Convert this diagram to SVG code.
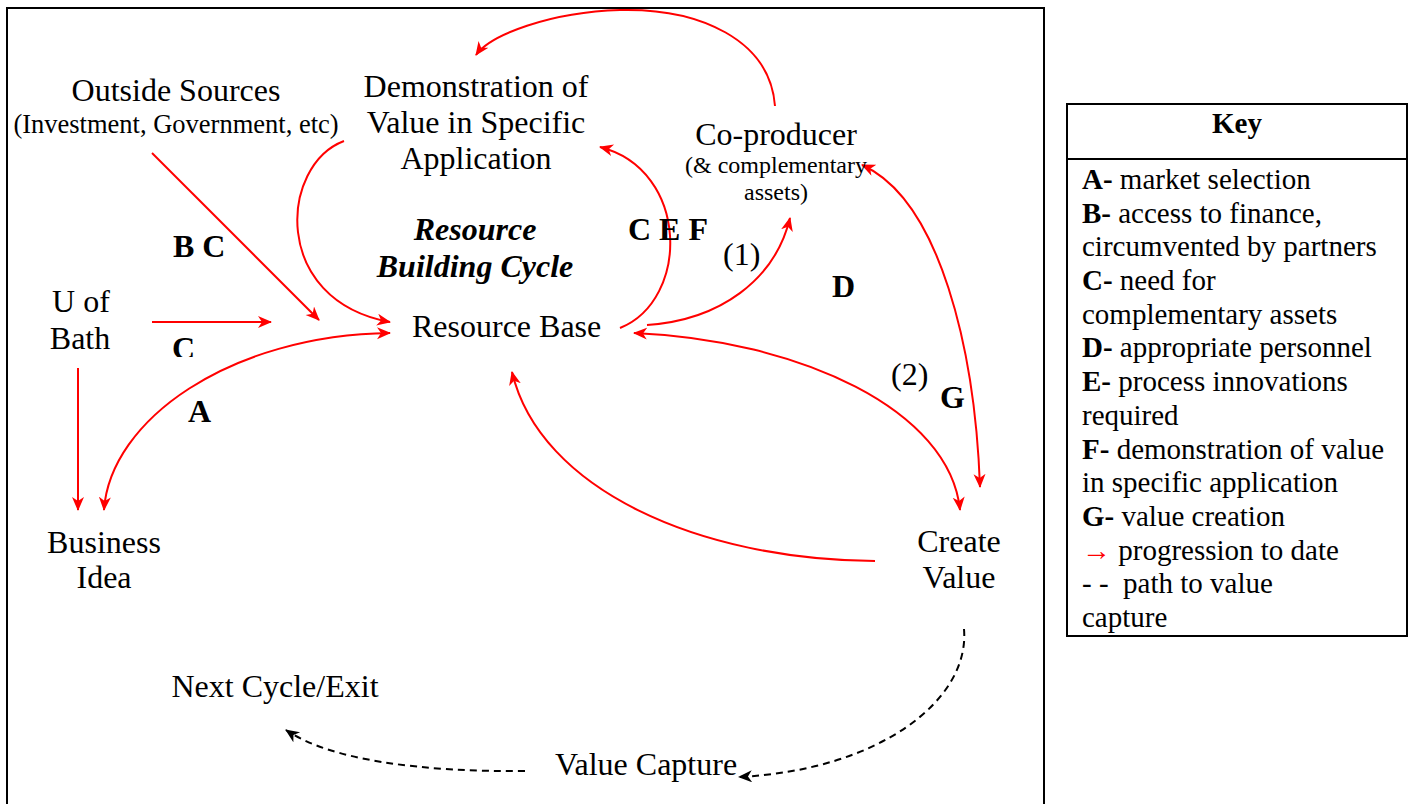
<svg xmlns="http://www.w3.org/2000/svg" width="1414" height="804" viewBox="0 0 1414 804">
<style>
text { font-family: "Liberation Serif", "Times New Roman", serif; fill: #000; }
.n { font-size: 32px; }
.m { text-anchor: middle; }
.s { font-size: 26.5px; }
.xs { font-size: 24px; }
.b { font-size: 32px; font-weight: bold; }
.bi { font-size: 32px; font-weight: bold; font-style: italic; }
.k { font-size: 29px; white-space: pre; }
.kb { font-weight: bold; }
.red { fill: #ff0000; }
.c { fill: none; stroke: #ff0000; stroke-width: 2; }
.d { fill: none; stroke: #000; stroke-width: 2; stroke-dasharray: 7 5; }
.frame { fill: none; stroke: #000; stroke-width: 2; }
</style>
<defs>
<marker id="ar" markerUnits="userSpaceOnUse" markerWidth="16" markerHeight="14" refX="13" refY="6" orient="auto-start-reverse">
<path d="M0,0 L14,6 L0,12 L4,6 z" fill="#ff0000"/>
</marker>
<marker id="ak" markerUnits="userSpaceOnUse" markerWidth="16" markerHeight="14" refX="13" refY="6" orient="auto-start-reverse">
<path d="M0,0 L14,6 L0,12 L4,6 z" fill="#000"/>
</marker>
<clipPath id="clipC"><rect x="150" y="320" width="80" height="37"/></clipPath>
</defs>

<rect class="frame" x="7" y="8" width="1037" height="810"/>

<g id="connectors">
<line class="c" x1="152" y1="153" x2="319" y2="320" marker-end="url(#ar)"/>
<line class="c" x1="152" y1="322" x2="271" y2="322" marker-end="url(#ar)"/>
<path class="c" d="M344,141 C280,165 270,300 390,322" marker-end="url(#ar)"/>
<path class="c" d="M390,333 C230,335 110,420 104,510" marker-start="url(#ar)" marker-end="url(#ar)"/>
<line class="c" x1="78" y1="368" x2="78" y2="510" marker-end="url(#ar)"/>
<path class="c" d="M775,106 C770,40 700,8 620,10 C550,12 490,35 476,55" marker-end="url(#ar)"/>
<path class="c" d="M620,328 C690,300 690,170 600,147" marker-end="url(#ar)"/>
<path class="c" d="M647,325 C720,320 775,280 790,218" marker-end="url(#ar)"/>
<path class="c" d="M862,165 C940,200 975,350 980,487" marker-start="url(#ar)" marker-end="url(#ar)"/>
<path class="c" d="M634,333 C800,340 950,410 960,510" marker-start="url(#ar)" marker-end="url(#ar)"/>
<path class="c" d="M875,561 C700,560 540,490 512,372" marker-end="url(#ar)"/>
<path class="d" d="M964,629 C970,700 880,770 739,777" marker-end="url(#ak)"/>
<path class="d" d="M525,771 C420,772 330,760 286,730" marker-end="url(#ak)"/>
</g>

<g id="outside-sources">
<text class="n m" x="176" y="101">Outside Sources</text>
<text class="s m" x="176" y="133">(Investment, Government, etc)</text>
</g>
<g id="demonstration">
<text class="n m" x="476" y="97">Demonstration of</text>
<text class="n m" x="476" y="133">Value in Specific</text>
<text class="n m" x="476" y="169">Application</text>
</g>
<g id="co-producer">
<text class="n m" x="776" y="145">Co-producer</text>
<text class="xs m" x="776" y="173">(&amp; complementary</text>
<text class="xs m" x="776" y="200">assets)</text>
</g>
<g id="cycle-title">
<text class="bi m" x="475" y="240">Resource</text>
<text class="bi m" x="475" y="277">Building Cycle</text>
</g>
<g id="resource-base">
<text class="n" x="412" y="337">Resource Base</text>
</g>
<g id="u-of-bath">
<text class="n m" x="81" y="312">U of</text>
<text class="n m" x="80" y="349">Bath</text>
</g>
<g id="business-idea">
<text class="n m" x="104" y="553">Business</text>
<text class="n m" x="104" y="588">Idea</text>
</g>
<g id="create-value">
<text class="n m" x="959" y="552">Create</text>
<text class="n m" x="959" y="588">Value</text>
</g>
<g id="next-cycle">
<text class="n m" x="275" y="697">Next Cycle/Exit</text>
</g>
<g id="value-capture">
<text class="n m" x="646" y="775">Value Capture</text>
</g>

<g id="labels">
<text class="b" x="173" y="257">B C</text>
<text class="b" x="172" y="359" clip-path="url(#clipC)">C</text>
<text class="b" x="188" y="422">A</text>
<text class="b" x="628" y="240">C E F</text>
<text class="n" x="723" y="265">(1)</text>
<text class="b" x="832" y="297">D</text>
<text class="n" x="891" y="385">(2)</text>
<text class="b" x="940" y="408">G</text>
</g>

<g id="key">
<rect x="1067" y="104" width="340" height="532" fill="#fff" stroke="#000" stroke-width="2"/>
<line x1="1067" y1="159" x2="1407" y2="159" stroke="#000" stroke-width="2"/>
<text class="k kb m" x="1237" y="133">Key</text>
<text class="k" x="1082" y="189"><tspan class="kb">A-</tspan> market selection</text>
<text class="k" x="1082" y="223"><tspan class="kb">B-</tspan> access to finance,</text>
<text class="k" x="1082" y="256">circumvented by partners</text>
<text class="k" x="1082" y="290"><tspan class="kb">C-</tspan> need for</text>
<text class="k" x="1082" y="324">complementary assets</text>
<text class="k" x="1082" y="357"><tspan class="kb">D-</tspan> appropriate personnel</text>
<text class="k" x="1082" y="391"><tspan class="kb">E-</tspan> process innovations</text>
<text class="k" x="1082" y="425">required</text>
<text class="k" x="1082" y="459"><tspan class="kb">F-</tspan> demonstration of value</text>
<text class="k" x="1082" y="492">in specific application</text>
<text class="k" x="1082" y="526"><tspan class="kb">G-</tspan> value creation</text>
<text class="k" x="1082" y="560"><tspan class="red">→</tspan> progression to date</text>
<text class="k" x="1082" y="593">- -  path to value</text>
<text class="k" x="1082" y="627">capture</text>
</g>
</svg>
